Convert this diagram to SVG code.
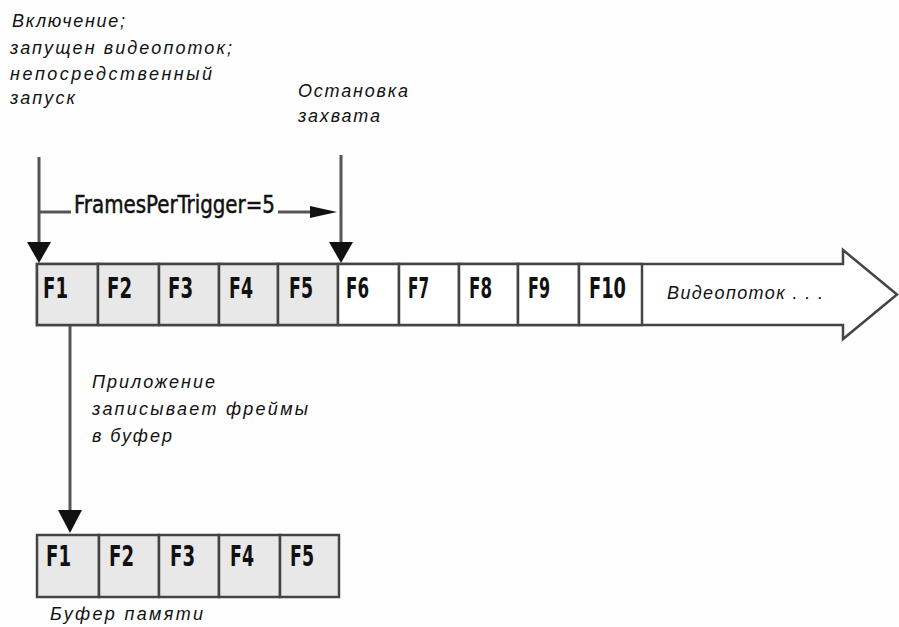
<svg xmlns="http://www.w3.org/2000/svg" width="899" height="627" viewBox="0 0 899 627">
  <style>
    .note { font-family: "Liberation Sans", Arial, sans-serif; font-style: italic; font-size: 18px; fill: #111; }
    .frame { font-family: "DejaVu Sans Condensed", "DejaVu Sans", sans-serif; font-weight: bold; font-size: 28px; fill: #111; }
    .lbl { font-family: "DejaVu Sans Condensed", "DejaVu Sans", sans-serif; font-size: 25px; fill: #111; stroke: #111; stroke-width: 0.5; }
    .box { stroke: #444; stroke-width: 2.5; }
    .held { fill: #e8e8e8; }
    .free { fill: #ffffff; }
    .wire { stroke: #555; stroke-width: 3; fill: none; }
    .head { fill: #111; }
  </style>
  <rect width="899" height="627" fill="#fefefe"/>

  <!-- annotations -->
  <g id="start-note">
    <text class="note" x="12" y="27" textLength="113" lengthAdjust="spacing">Включение;</text>
    <text class="note" x="10" y="54" textLength="222" lengthAdjust="spacing">запущен видеопоток;</text>
    <text class="note" x="10" y="80" textLength="202" lengthAdjust="spacing">непосредственный</text>
    <text class="note" x="10" y="104" textLength="65" lengthAdjust="spacing">запуск</text>
  </g>
  <g id="stop-note">
    <text class="note" x="298" y="97" textLength="110" lengthAdjust="spacing">Остановка</text>
    <text class="note" x="298" y="122" textLength="82" lengthAdjust="spacing">захвата</text>
  </g>
  <g id="count-label">
    <text class="lbl" x="74" y="213" textLength="201" lengthAdjust="spacingAndGlyphs">FramesPerTrigger=5</text>
  </g>

  <!-- video stream -->
  <g id="stream">
    <polygon class="box free" points="37,264 843,264 843,250 897,294.5 843,339 843,325 37,325"/>
    <text class="note" x="667" y="299" textLength="156" lengthAdjust="spacing">Видеопоток . . .</text>
  </g>
  <g id="frame-f1"><rect class="box held" x="37" y="264" width="61" height="61"/><text class="frame" x="43" y="298" textLength="25" lengthAdjust="spacingAndGlyphs">F1</text></g>
  <g id="frame-f2"><rect class="box held" x="98" y="264" width="61" height="61"/><text class="frame" x="107" y="298" textLength="25" lengthAdjust="spacingAndGlyphs">F2</text></g>
  <g id="frame-f3"><rect class="box held" x="159" y="264" width="60" height="61"/><text class="frame" x="168" y="298" textLength="25" lengthAdjust="spacingAndGlyphs">F3</text></g>
  <g id="frame-f4"><rect class="box held" x="219" y="264" width="59" height="61"/><text class="frame" x="229" y="298" textLength="24" lengthAdjust="spacingAndGlyphs">F4</text></g>
  <g id="frame-f5"><rect class="box held" x="278" y="264" width="60" height="61"/><text class="frame" x="289" y="298" textLength="24" lengthAdjust="spacingAndGlyphs">F5</text></g>
  <g id="frame-f6"><rect class="box free" x="338" y="264" width="61" height="61"/><text class="frame" x="346" y="298" textLength="23" lengthAdjust="spacingAndGlyphs">F6</text></g>
  <g id="frame-f7"><rect class="box free" x="399" y="264" width="60" height="61"/><text class="frame" x="408" y="298" textLength="21" lengthAdjust="spacingAndGlyphs">F7</text></g>
  <g id="frame-f8"><rect class="box free" x="459" y="264" width="59" height="61"/><text class="frame" x="469" y="298" textLength="23" lengthAdjust="spacingAndGlyphs">F8</text></g>
  <g id="frame-f9"><rect class="box free" x="518" y="264" width="61" height="61"/><text class="frame" x="528" y="298" textLength="22" lengthAdjust="spacingAndGlyphs">F9</text></g>
  <g id="frame-f10"><rect class="box free" x="579" y="264" width="63" height="61"/><text class="frame" x="589" y="298" textLength="37" lengthAdjust="spacingAndGlyphs">F10</text></g>

  <!-- write note -->
  <g id="write-note">
    <text class="note" x="92" y="388" textLength="123" lengthAdjust="spacing">Приложение</text>
    <text class="note" x="92" y="415" textLength="216" lengthAdjust="spacing">записывает фреймы</text>
    <text class="note" x="92" y="442" textLength="80" lengthAdjust="spacing">в буфер</text>
  </g>

  <!-- memory buffer -->
  <g id="buffer-f1"><rect class="box held" x="37" y="535" width="62" height="62"/><text class="frame" x="46" y="566" textLength="25" lengthAdjust="spacingAndGlyphs">F1</text></g>
  <g id="buffer-f2"><rect class="box held" x="99" y="535" width="60" height="62"/><text class="frame" x="109" y="566" textLength="25" lengthAdjust="spacingAndGlyphs">F2</text></g>
  <g id="buffer-f3"><rect class="box held" x="159" y="535" width="60" height="62"/><text class="frame" x="170" y="566" textLength="25" lengthAdjust="spacingAndGlyphs">F3</text></g>
  <g id="buffer-f4"><rect class="box held" x="219" y="535" width="61" height="62"/><text class="frame" x="230" y="566" textLength="24" lengthAdjust="spacingAndGlyphs">F4</text></g>
  <g id="buffer-f5"><rect class="box held" x="280" y="535" width="59" height="62"/><text class="frame" x="290" y="566" textLength="24" lengthAdjust="spacingAndGlyphs">F5</text></g>
  <g id="buffer-note">
    <text class="note" x="50" y="620" textLength="153" lengthAdjust="spacing">Буфер памяти</text>
  </g>

  <!-- connectors -->
  <g id="connectors">
    <line class="wire" x1="39" y1="157" x2="39" y2="244"/>
    <polygon class="head" points="27,242 51,242 39,263"/>
    <line class="wire" x1="39" y1="212" x2="71" y2="212"/>
    <line class="wire" x1="278" y1="212" x2="314" y2="212"/>
    <polygon class="head" points="310,206 337,212 310,218"/>
    <line class="wire" x1="341" y1="155" x2="341" y2="244"/>
    <polygon class="head" points="329,242 353,242 341,263"/>
    <line class="wire" x1="70" y1="326" x2="70" y2="512"/>
    <polygon class="head" points="58,510 82,510 70,533"/>
  </g>
</svg>
